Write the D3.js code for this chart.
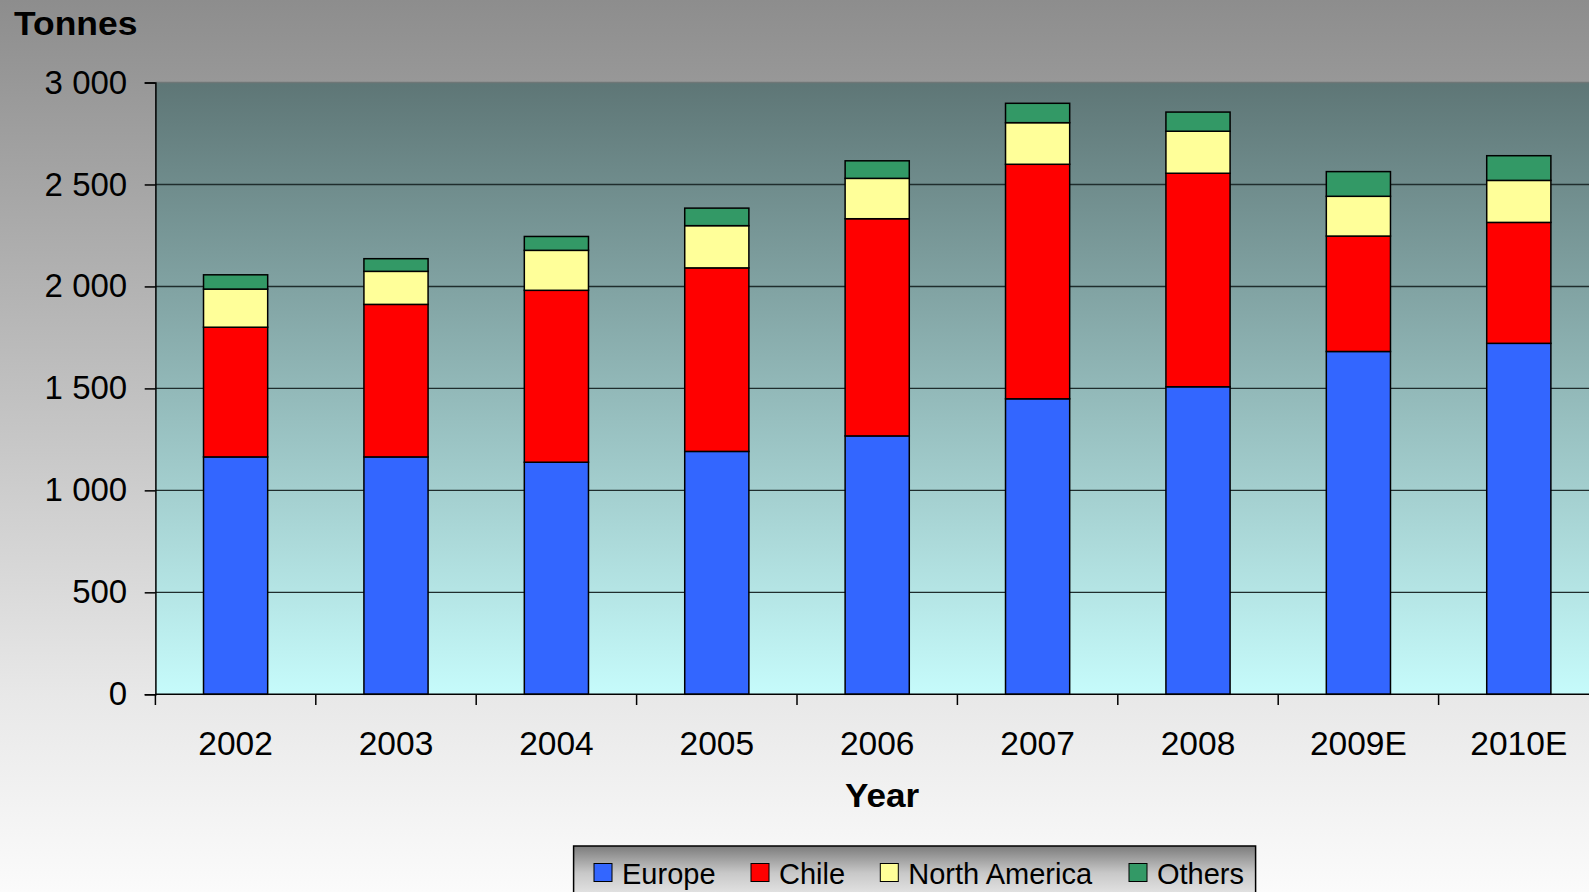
<!DOCTYPE html>
<html>
<head>
<meta charset="utf-8">
<script src="https://cdn.jsdelivr.net/npm/d3@7"></script>
<style>
  html, body { margin: 0; padding: 0; overflow: hidden; background: #fff; }
  svg { display: block; font-family: "Liberation Sans", Arial, sans-serif; }
</style>
</head>
<body>
<svg id="chart" width="1589" height="892"></svg>
<script>
// Production by region, tonnes per year
const years = ["2002", "2003", "2004", "2005", "2006", "2007", "2008", "2009E", "2010E"];
const europe       = [1164, 1164, 1138, 1191, 1267, 1449, 1508, 1681, 1721];
const chile        = [636, 748, 843, 900, 1065, 1150, 1047, 566, 593];
const northAmerica = [187, 162, 196, 207, 198, 204, 206, 195, 206];
const others       = [70, 62, 68, 86, 86, 95, 94, 121, 121];

const seriesNames = ["Europe", "Chile", "North America", "Others"];
const seriesColors = ["#3366FF", "#FF0000", "#FFFF99", "#339966"];
const yTicks = [0, 500, 1000, 1500, 2000, 2500, 3000];

const rows = years.map((y, i) => ({
  year: y,
  "Europe": europe[i],
  "Chile": chile[i],
  "North America": northAmerica[i],
  "Others": others[i]
}));

const W = 1589, H = 892;
const plot = { left: 155.4, right: 1599, top: 82.5, bottom: 694.3 };

const svg = d3.select("#chart");
const defs = svg.append("defs");

// Page background: grey at top fading to near white
const bg = defs.append("linearGradient").attr("id", "bgGrad")
  .attr("x1", 0).attr("y1", 0).attr("x2", 0).attr("y2", 1);
bg.append("stop").attr("offset", "0%").attr("stop-color", "#8d8d8d");
bg.append("stop").attr("offset", "78%").attr("stop-color", "#e8e8e8");
bg.append("stop").attr("offset", "100%").attr("stop-color", "#fbfbfb");

// Plot area: dark teal at top to pale cyan at bottom
const pg = defs.append("linearGradient").attr("id", "plotGrad")
  .attr("x1", 0).attr("y1", 0).attr("x2", 0).attr("y2", 1);
pg.append("stop").attr("offset", "0%").attr("stop-color", "#5e7676");
pg.append("stop").attr("offset", "100%").attr("stop-color", "#c6fbfb");

// Legend box shading
const lg = defs.append("linearGradient").attr("id", "legGrad")
  .attr("x1", 0).attr("y1", 0).attr("x2", 0).attr("y2", 1);
lg.append("stop").attr("offset", "0%").attr("stop-color", "#7c7c7c");
lg.append("stop").attr("offset", "45%").attr("stop-color", "#c8c8c8");
lg.append("stop").attr("offset", "100%").attr("stop-color", "#f2f2f2");

svg.append("rect").attr("width", W).attr("height", H).attr("fill", "url(#bgGrad)");

const x = d3.scaleBand()
  .domain(years)
  .range([plot.left, plot.right])
  .paddingInner(0.6)
  .paddingOuter(0.3);

const y = d3.scaleLinear()
  .domain([0, 3000])
  .range([plot.bottom, plot.top]);

svg.append("rect")
  .attr("x", plot.left).attr("y", plot.top)
  .attr("width", plot.right - plot.left).attr("height", plot.bottom - plot.top)
  .attr("fill", "url(#plotGrad)");

// Horizontal gridlines
svg.append("g")
  .selectAll("line")
  .data(yTicks.filter(d => d > 0))
  .join("line")
  .attr("x1", plot.left).attr("x2", plot.right)
  .attr("y1", d => y(d)).attr("y2", d => y(d))
  .attr("stroke", d => d === 3000 ? "#6f7777" : "#1f2d2d")
  .attr("stroke-width", 1.4);

// Stacked bars
const stack = d3.stack().keys(seriesNames);
const layers = stack(rows);

svg.append("g")
  .selectAll("g")
  .data(layers)
  .join("g")
  .attr("fill", (d, i) => seriesColors[i])
  .selectAll("rect")
  .data(d => d)
  .join("rect")
  .attr("x", d => x(d.data.year))
  .attr("width", x.bandwidth())
  .attr("y", d => y(d[1]))
  .attr("height", d => y(d[0]) - y(d[1]))
  .attr("stroke", "#000")
  .attr("stroke-width", 1.5);

// Y axis
const fmt = d3.formatLocale({ decimal: ".", thousands: " ", grouping: [3], currency: ["", ""] }).format(",");
const yAxis = svg.append("g")
  .attr("transform", `translate(${plot.left},0)`)
  .call(d3.axisLeft(y).tickValues(yTicks).tickFormat(fmt).tickSize(10.7).tickPadding(17.5));
yAxis.select(".domain").attr("stroke", "#000").attr("stroke-width", 1.5);
yAxis.selectAll(".tick line").attr("stroke", "#000").attr("stroke-width", 1.5);
yAxis.selectAll(".tick text")
  .attr("font-size", 33).attr("fill", "#000")
  .attr("font-family", "'Liberation Sans', Arial, sans-serif");

// X axis: labels centred on bars, tick marks between categories
const xAxis = svg.append("g")
  .attr("transform", `translate(0,${plot.bottom})`)
  .call(d3.axisBottom(x).tickSize(0).tickPadding(36.5));
xAxis.select(".domain").remove();
xAxis.selectAll(".tick text")
  .attr("font-size", 33.5).attr("fill", "#000")
  .attr("font-family", "'Liberation Sans', Arial, sans-serif");

svg.append("line")
  .attr("x1", plot.left).attr("x2", plot.right)
  .attr("y1", plot.bottom).attr("y2", plot.bottom)
  .attr("stroke", "#000").attr("stroke-width", 1.5);

const step = x.step();
const boundaries = d3.range(years.length + 1).map(i => plot.left + i * step);
svg.append("g")
  .selectAll("line")
  .data(boundaries)
  .join("line")
  .attr("x1", d => d).attr("x2", d => d)
  .attr("y1", plot.bottom).attr("y2", plot.bottom + 10.7)
  .attr("stroke", "#000").attr("stroke-width", 1.5);

// Axis titles (slightly widened bold face)
svg.append("text")
  .attr("transform", "translate(14,35) scale(1.075,1)")
  .attr("font-size", 33).attr("font-weight", "bold").attr("fill", "#000")
  .text("Tonnes");

svg.append("text")
  .attr("transform", "translate(882,807) scale(1.08,1)")
  .attr("text-anchor", "middle")
  .attr("font-size", 32.5).attr("font-weight", "bold").attr("fill", "#000")
  .text("Year");

// Legend
const legend = { x: 573.6, y: 846, w: 682, h: 60 };
const itemOffsets = [20.4, 177.4, 306.7, 555.4];
const lgG = svg.append("g").attr("transform", `translate(${legend.x},${legend.y})`);
lgG.append("rect")
  .attr("width", legend.w).attr("height", legend.h)
  .attr("fill", "url(#legGrad)")
  .attr("stroke", "#000").attr("stroke-width", 1.5);

const items = lgG.selectAll("g.item")
  .data(seriesNames)
  .join("g")
  .attr("class", "item")
  .attr("transform", (d, i) => `translate(${itemOffsets[i]},0)`);
items.append("rect")
  .attr("x", 0).attr("y", 17.5)
  .attr("width", 18).attr("height", 18)
  .attr("fill", (d, i) => seriesColors[i])
  .attr("stroke", "#000").attr("stroke-width", 1);
items.append("text")
  .attr("x", 28).attr("y", 37.5)
  .attr("font-size", 29).attr("fill", "#000")
  .text(d => d);
</script>
</body>
</html>
